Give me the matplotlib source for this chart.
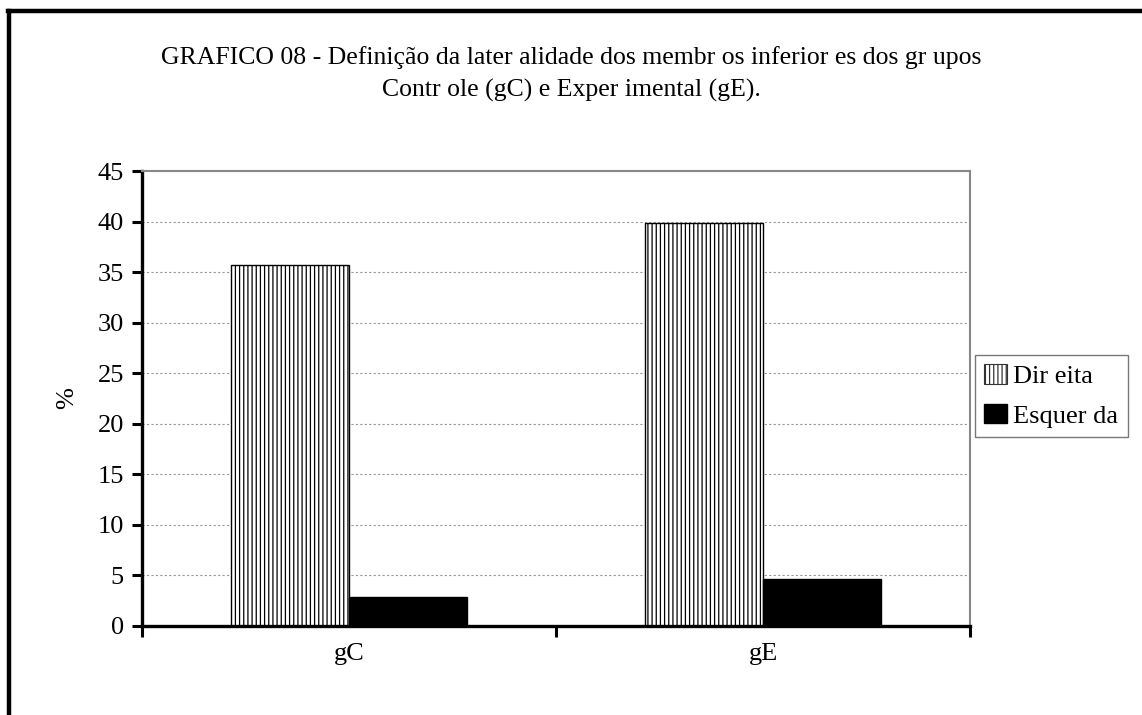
import matplotlib
matplotlib.use("Agg")
import matplotlib.pyplot as plt
import numpy as np
from matplotlib.lines import Line2D
from matplotlib.patches import Patch

plt.rcParams['font.family'] = ['Liberation Serif', 'DejaVu Serif']
plt.rcParams['hatch.linewidth'] = 0.9
plt.rcParams['hatch.color'] = '#333333'

categories = ['gC', 'gE']
direita = [35.7, 39.9]
esquerda = [2.85, 4.65]
series_names = ['Dir eita', 'Esquer da']
yticks = [0, 5, 10, 15, 20, 25, 30, 35, 40, 45]
title = ("GRAFICO 08 - Definição da later alidade dos membr os inferior es dos gr upos\n"
         "Contr ole (gC) e Exper imental (gE).")

W, H = 1142, 715
fig = plt.figure(figsize=(W / 100, H / 100), dpi=100)
ax = fig.add_axes([142 / W, 1 - 626 / H, (970 - 142) / W, (626 - 171) / H])

x = np.arange(len(categories))
bw = 1 / 3.5
ax.bar(x - bw / 2, direita, bw, facecolor='white', edgecolor='black', linewidth=1.0,
       hatch='||||', zorder=3)
ax.bar(x + bw / 2, esquerda, bw, facecolor='black', edgecolor='black', linewidth=1.0,
       zorder=3)

lab_font = dict(fontsize=19, fontweight='medium')

ax.set_xlim(-0.5, 1.5)
ax.set_ylim(0, 45)
ax.set_yticks(yticks)
ax.set_yticklabels([str(v) for v in yticks], **lab_font)
ax.set_xticks([-0.5, 0.5, 1.5])
ax.set_xticklabels([])
ax.set_xticks(x, minor=True)
ax.set_xticklabels(categories, minor=True, **lab_font)
ax.tick_params(axis='x', which='minor', length=0, pad=12)
ax.tick_params(axis='x', which='major', direction='out', length=8, width=2.2, color='black')
ax.tick_params(axis='y', direction='out', length=7, width=2.2, color='black', pad=6)

ax.yaxis.grid(True, linestyle=(0, (2, 2)), color='#999999', linewidth=0.8, zorder=0)
ax.set_axisbelow(True)

ax.spines['left'].set_linewidth(2.4)
ax.spines['left'].set_color('black')
ax.spines['bottom'].set_linewidth(2.4)
ax.spines['bottom'].set_color('black')
ax.spines['bottom'].set_zorder(5)
for s in ['top', 'right']:
    ax.spines[s].set_color('#888888')
    ax.spines[s].set_linewidth(1.5)

ax.set_ylabel('%', labelpad=14, **lab_font)

handles = [Patch(facecolor='white', edgecolor='#333333', hatch='||||', linewidth=0.8),
           Patch(facecolor='black', edgecolor='black')]
leg = fig.legend(handles, series_names, loc='upper left',
                 bbox_to_anchor=(975 / W, 1 - 355 / H),
                 prop=dict(size=19),
                 frameon=True, fancybox=False, edgecolor='#555555',
                 handlelength=0.85, handleheight=0.75, handletextpad=0.25,
                 borderpad=0.35, labelspacing=0.6, borderaxespad=0)
leg.get_frame().set_linewidth(1.0)

fig.text(0.5, 1 - 46 / H, title, ha='center', va='top', fontsize=18.5, linespacing=1.55)

# outer frame (top and left edges visible)
fig.add_artist(Line2D([8 / W, 1.0], [1 - 11 / H, 1 - 11 / H], color='black', linewidth=3.2,
                      transform=fig.transFigure))
fig.add_artist(Line2D([9 / W, 9 / W], [0.0, 1 - 11 / H], color='black', linewidth=3.2,
                      transform=fig.transFigure))

fig.savefig('out.png', dpi=100)
